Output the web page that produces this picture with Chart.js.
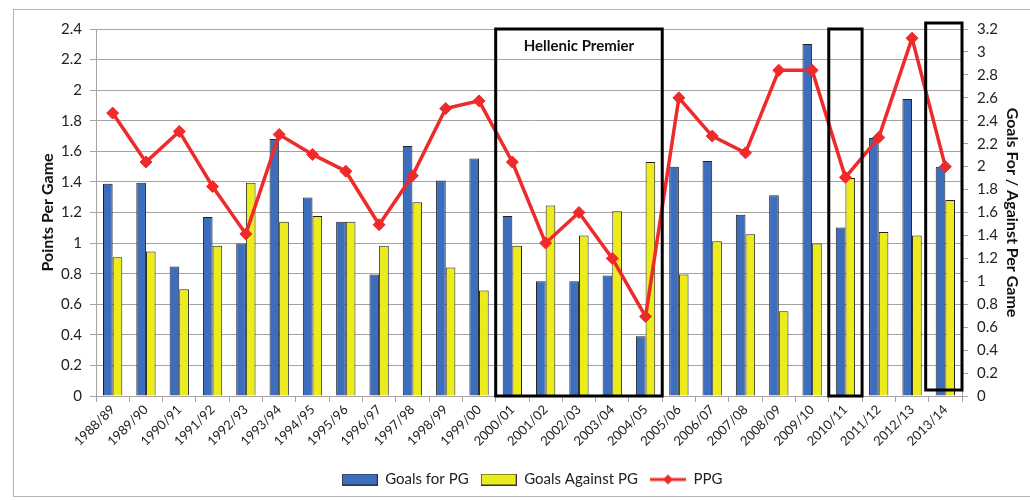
<!DOCTYPE html>
<html>
<head>
<meta charset="utf-8">
<script src="https://cdn.jsdelivr.net/npm/chart.js@4"></script>
<style>
  html, body { margin: 0; padding: 0; background: #fff; }
  #wrap { width: 1030px; height: 500px; }
</style>
</head>
<body>
<div id="wrap"><canvas id="chart" width="1030" height="500"></canvas></div>
<script>
// season data
const seasons = ['1988/89', '1989/90', '1990/91', '1991/92', '1992/93', '1993/94', '1994/95',
  '1995/96', '1996/97', '1997/98', '1998/99', '1999/00', '2000/01', '2001/02', '2002/03',
  '2003/04', '2004/05', '2005/06', '2006/07', '2007/08', '2008/09', '2009/10', '2010/11',
  '2011/12', '2012/13', '2013/14'];
const goalsFor = [1.85, 1.86, 1.13, 1.56, 1.33, 2.24, 1.73, 1.52, 1.06, 2.18, 1.88, 2.07, 1.57,
  1.00, 1.00, 1.05, 0.52, 2.00, 2.05, 1.58, 1.75, 3.07, 1.47, 2.25, 2.59, 2.00];
const goalsAgainst = [1.21, 1.26, 0.93, 1.31, 1.86, 1.52, 1.57, 1.52, 1.31, 1.69, 1.12, 0.92, 1.31,
  1.66, 1.40, 1.61, 2.04, 1.06, 1.35, 1.41, 0.74, 1.33, 1.90, 1.43, 1.40, 1.71];
const ppg = [1.85, 1.53, 1.73, 1.37, 1.06, 1.71, 1.58, 1.47, 1.12, 1.44, 1.88, 1.93, 1.53,
  1.00, 1.20, 0.90, 0.52, 1.95, 1.70, 1.59, 2.13, 2.13, 1.43, 1.69, 2.34, 1.50];
const seriesNames = ['Goals for PG', 'Goals Against PG', 'PPG'];
// highlighted season ranges (first, last)
const boxRanges = [['2000/01', '2004/05', 'Hellenic Premier'], ['2010/11', '2010/11', ''], ['2013/14', '2013/14', '']];

const FONT = 'Lato, "Open Sans", sans-serif';
const BLUE = '#3d6dbd', YELLOW = '#ecec1c', RED = '#ee2a2a', GRID = '#a8a2a2';

// little legend images
function legendSwatch(kind, color) {
  const c = document.createElement('canvas');
  c.width = 36; c.height = 12;
  const g = c.getContext('2d');
  if (kind === 'bar') {
    g.fillStyle = color;
    g.fillRect(1, 1, 34, 10);
    g.strokeStyle = '#333';
    g.lineWidth = 1;
    g.strokeRect(0.5, 0.5, 35, 11);
  } else {
    g.strokeStyle = color;
    g.lineWidth = 3;
    g.beginPath(); g.moveTo(0, 6); g.lineTo(36, 6); g.stroke();
    g.fillStyle = color;
    g.beginPath(); g.moveTo(18, 1); g.lineTo(23, 6); g.lineTo(18, 11); g.lineTo(13, 6); g.closePath(); g.fill();
  }
  return c;
}

const framePlugin = {
  id: 'frame',
  beforeDraw(chart) {
    const ctx = chart.ctx;
    ctx.save();
    ctx.fillStyle = '#fff';
    ctx.fillRect(0, 0, chart.width, chart.height);
    ctx.strokeStyle = '#b4b4b4';
    ctx.lineWidth = 1;
    ctx.strokeRect(13.5, 9.5, chart.width, 487);
    ctx.restore();
  }
};

const boxPlugin = {
  id: 'seasonBoxes',
  afterDatasetsDraw(chart) {
    const ctx = chart.ctx, x = chart.scales.x, area = chart.chartArea;
    const half = (x.getPixelForValue(1) - x.getPixelForValue(0)) / 2;
    ctx.save();
    ctx.strokeStyle = '#000';
    ctx.lineWidth = 3;
    boxRanges.forEach((b, i) => {
      const x0 = x.getPixelForValue(seasons.indexOf(b[0])) - half;
      const x1 = x.getPixelForValue(seasons.indexOf(b[1])) + half;
      const dy = i === 2 ? -6 : 0;
      const dx = i === 2 ? -3 : 0;
      ctx.strokeRect(x0 + dx, area.top + dy, x1 - x0 - dx, area.bottom - area.top);
      if (b[2]) {
        ctx.fillStyle = '#111';
        ctx.font = 'bold 15px ' + FONT;
        ctx.textAlign = 'center';
        ctx.textBaseline = 'middle';
        ctx.fillText(b[2], (x0 + x1) / 2, area.top + 17);
      }
    });
    ctx.restore();
  }
};

new Chart(document.getElementById('chart'), {
  type: 'bar',
  data: {
    labels: seasons,
    datasets: [
      { label: seriesNames[0], data: goalsFor, yAxisID: 'y1', backgroundColor: BLUE,
        borderColor: '#222', borderWidth: 1, order: 2,
        categoryPercentage: 0.58, barPercentage: 1, pointStyle: legendSwatch('bar', BLUE) },
      { label: seriesNames[1], data: goalsAgainst, yAxisID: 'y1', backgroundColor: YELLOW,
        borderColor: '#222', borderWidth: 1, order: 2,
        categoryPercentage: 0.58, barPercentage: 1, pointStyle: legendSwatch('bar', YELLOW) },
      { type: 'line', label: seriesNames[2], data: ppg, yAxisID: 'y', order: 1,
        borderColor: RED, backgroundColor: RED, borderWidth: 3.5,
        pointStyle: 'rectRot', pointRadius: 6, pointBorderWidth: 1, pointBorderColor: RED,
        tension: 0 }
    ]
  },
  options: {
    responsive: false,
    animation: false,
    layout: { padding: { left: 34, right: 0, top: 29, bottom: 3 } },
    plugins: {
      tooltip: { enabled: false },
      legend: {
        position: 'bottom',
        labels: {
          usePointStyle: true,
          pointStyleWidth: 36,
          padding: 12,
          color: '#222',
          font: { family: FONT, size: 15 },
          generateLabels(chart) {
            return chart.data.datasets.map((ds, i) => ({
              text: ds.label,
              pointStyle: i < 2 ? ds.pointStyle : legendSwatch('line', RED),
              fontColor: '#222',
              lineWidth: 0,
              datasetIndex: i
            }));
          }
        }
      }
    },
    scales: {
      x: {
        offset: true,
        afterFit(s) { s.height = 64; },
        grid: { display: true, drawOnChartArea: false, offset: true, color: GRID, tickLength: 6 },
        border: { display: true, color: GRID },
        ticks: { color: '#222', font: { family: FONT, size: 13 }, maxRotation: 45, minRotation: 45, padding: 0 }
      },
      y: {
        position: 'left',
        min: 0, max: 2.4,
        afterFit(s) { s.width = 62; },
        grid: { color: GRID, tickLength: 6 },
        border: { display: true, color: GRID },
        ticks: { stepSize: 0.2, color: '#222', padding: 8, font: { family: FONT, size: 15 },
          callback: v => String(+v.toFixed(1)) },
        title: { display: true, text: 'Points Per Game', color: '#111',
          font: { family: FONT, size: 16, weight: 'bold' }, padding: { top: 4, bottom: 0 } }
      },
      y1: {
        position: 'right',
        min: 0, max: 3.2,
        afterFit(s) { s.width = 68; },
        grid: { drawOnChartArea: false, color: GRID, tickLength: 6 },
        border: { display: true, color: GRID },
        ticks: { stepSize: 0.2, color: '#222', padding: 9, font: { family: FONT, size: 15 },
          callback: v => String(+v.toFixed(1)) },
        title: { display: true, text: 'Goals For / Against Per Game', color: '#111',
          font: { family: FONT, size: 16, weight: 'bold' }, padding: { top: 8, bottom: 0 } }
      }
    }
  },
  plugins: [framePlugin, boxPlugin]
});
</script>
</body>
</html>
